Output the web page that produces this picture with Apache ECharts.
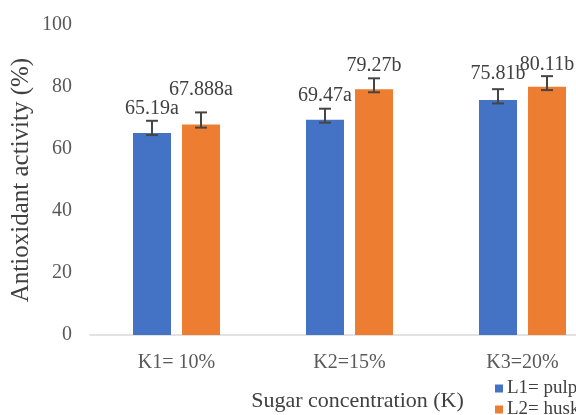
<!DOCTYPE html>
<html>
<head>
<meta charset="utf-8">
<script src="https://cdn.jsdelivr.net/npm/echarts@6/dist/echarts.min.js"></script>
<style>html,body{margin:0;padding:0;background:#fff}#c{width:576px;height:415px}</style>
</head>
<body>
<div id="c"></div>
<script>
const categories = ['K1= 10%', 'K2=15%', 'K3=20%'];
const seriesNames = ['L1= pulp', 'L2= husk'];
const pulpValues = [65.19, 69.47, 75.81];
const huskValues = [67.888, 79.27, 80.11];
const pulpLabels = ['65.19a', '69.47a', '75.81b'];
const huskLabels = ['67.888a', '79.27b', '80.11b'];
const pulpErrLow = [64.5, 68.5, 74.7];
const pulpErrHigh = [69.1, 73.0, 79.3];
const huskErrLow = [66.9, 78.3, 79.0];
const huskErrHigh = [71.8, 82.8, 83.5];
const yTicks = [0, 20, 40, 60, 80, 100];

const FONT = '"Liberation Serif", "Times New Roman", serif';
const BAR_W = 38;
const OFFSET = 24.5;
// per-item extra vertical shift of value labels (px), style only
const pulpLabelShift = [-1, 0, 2];
const huskLabelShift = [10, 0, -2];

function errRender(side, lows, highs, labels, shifts) {
  return function (params, api) {
    const i = api.value(0);
    const lo = api.coord([i, lows[i]]);
    const hi = api.coord([i, highs[i]]);
    const x = lo[0] + side * OFFSET;
    const cap = 6;
    const style = { stroke: '#454545', lineWidth: 2 };
    return {
      type: 'group',
      children: [
        { type: 'line', shape: { x1: x, y1: lo[1], x2: x, y2: hi[1] }, style },
        { type: 'line', shape: { x1: x - cap, y1: lo[1], x2: x + cap, y2: lo[1] }, style },
        { type: 'line', shape: { x1: x - cap, y1: hi[1], x2: x + cap, y2: hi[1] }, style },
        { type: 'text', style: { text: labels[i], x: x, y: hi[1] - 13 - shifts[i], align: 'center', verticalAlign: 'middle', font: '20px ' + FONT, fill: '#404040' } }
      ]
    };
  };
}

const legendCommon = {
  orient: 'vertical',
  left: 495,
  icon: 'rect',
  itemWidth: 8,
  itemHeight: 8,
  padding: 0,
  textStyle: { fontFamily: FONT, fontSize: 19, color: '#404040', padding: [0, 0, 0, -1] }
};

const chart = echarts.init(document.getElementById('c'), null, { renderer: 'canvas' });
chart.setOption({
  animation: false,
  textStyle: { fontFamily: FONT },
  grid: { left: 90, top: 25, width: 519, bottom: 80, containLabel: false, outerBoundsMode: 'none' },
  legend: [
    Object.assign({}, legendCommon, { data: [seriesNames[0]], top: 379 }),
    Object.assign({}, legendCommon, { data: [seriesNames[1]], top: 400 })
  ],
  xAxis: {
    type: 'category',
    data: categories,
    name: 'Sugar concentration (K)',
    nameLocation: 'middle',
    nameGap: 55,
    nameTextStyle: { fontFamily: FONT, fontSize: 22, color: '#404040', padding: [0, 0, 0, 16] },
    axisLine: { lineStyle: { color: '#d9d9d9', width: 1.5 } },
    axisTick: { show: false },
    axisLabel: { fontFamily: FONT, fontSize: 20, color: '#595959', margin: 18 }
  },
  yAxis: {
    type: 'value',
    min: 0, max: 100, interval: 20,
    name: 'Antioxidant activity (%)',
    nameLocation: 'middle',
    nameGap: 56,
    nameMoveOverlap: false,
    nameTextStyle: { fontFamily: FONT, fontSize: 25, color: '#404040' },
    axisLine: { show: false },
    axisTick: { show: false },
    splitLine: { show: false },
    axisLabel: { fontFamily: FONT, fontSize: 20, color: '#595959', margin: 18,
      formatter: v => yTicks.includes(v) ? String(v) : '' }
  },
  series: [
    { name: seriesNames[0], type: 'bar', data: pulpValues, barWidth: BAR_W, barGap: '29%',
      itemStyle: { color: '#4472C4' } },
    { name: seriesNames[1], type: 'bar', data: huskValues, barWidth: BAR_W, barGap: '29%',
      itemStyle: { color: '#ED7D31' } },
    { type: 'custom', data: categories.map((c, i) => [i]), renderItem: errRender(-1, pulpErrLow, pulpErrHigh, pulpLabels, pulpLabelShift), z: 5, silent: true },
    { type: 'custom', data: categories.map((c, i) => [i]), renderItem: errRender(1, huskErrLow, huskErrHigh, huskLabels, huskLabelShift), z: 5, silent: true }
  ]
});
</script>
</body>
</html>
